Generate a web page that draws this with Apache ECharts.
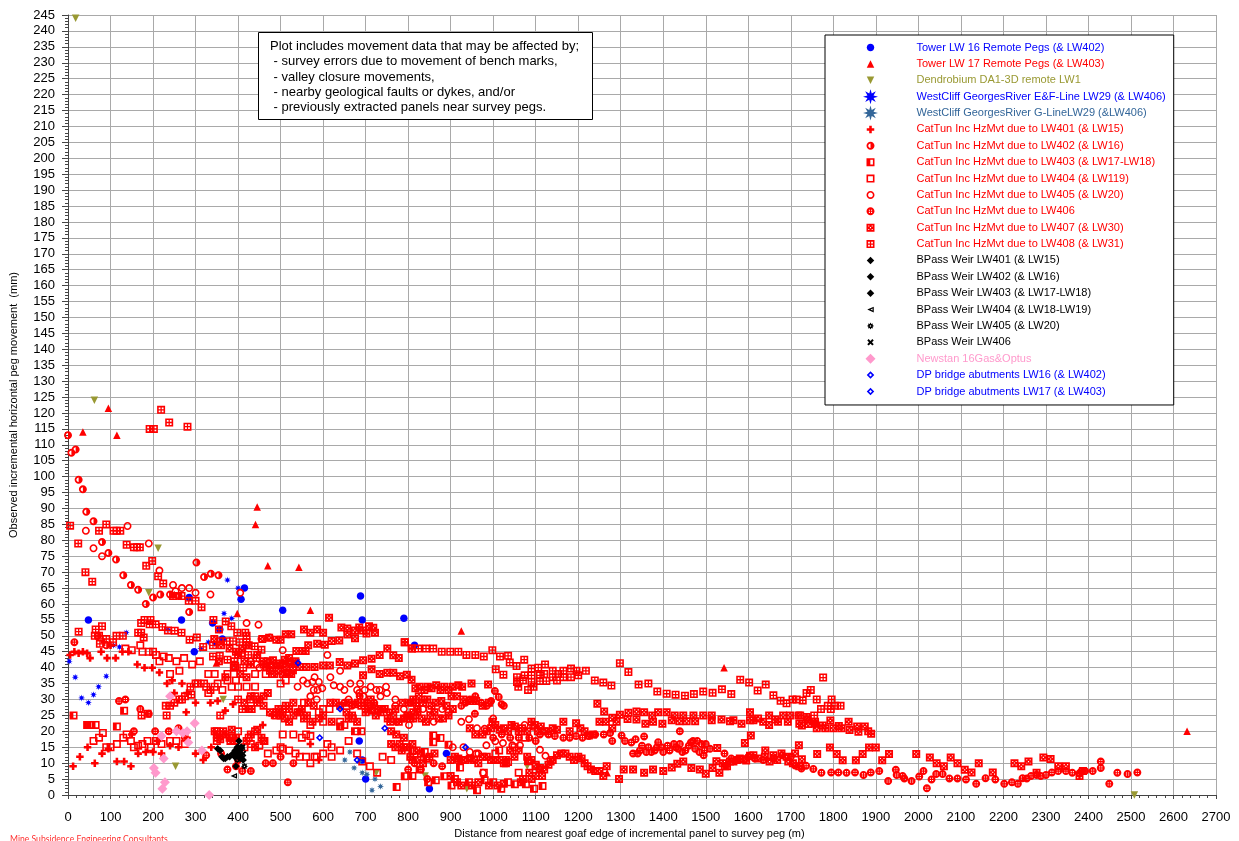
<!DOCTYPE html>
<html>
<head>
<meta charset="utf-8">
<style>html,body{margin:0;padding:0;background:#fff}#c{width:1239px;height:841px}</style>
<script src="https://cdn.jsdelivr.net/npm/echarts@6/dist/echarts.min.js"></script>
</head>
<body>
<div id="c"></div>
<script>
const towerLW16=[[48,55],[267,55],[285,62],[407,61.5],[415,65],[505,58],[688,62.5],[692,55],[790,55.5],[815,47],[340,54],[357,52],[363,49],[297,45],[685,17],[692,11],[700,5],[850,2],[890,13]];
const towerLW17=[[35,114],[95,121.5],[115,113],[445,90.5],[441,85],[470,72],[543,71.5],[570,58],[398,57],[250,63],[349,41.5],[925,51.5],[1543,40],[2632,20],[1268,7]];
const dendrobium=[[18,244],[62,124],[212,77.5],[190,63.5],[253,9],[365,30],[725,7],[840,6],[938,2],[1080,9],[2508,0]];
const westCliffEF=[[3,42],[17,37],[32,30.5],[48,29],[60,31.5],[72,34],[90,37.3],[137,51],[107,47],[121,46.5],[375,67.5],[400,65],[385,55.5],[367,57],[330,48],[345,47.5],[235,52],[312,46],[540,42]];
const westCliffG=[[651,11],[663,13.5],[673,8.5],[685,10.5],[692,7],[703,6.5],[722,5],[715,1.5],[735,2.7]];
const catTun401=[[12,9],[63,10],[28,12],[46,15],[80,13],[95,14.5],[115,10.5],[132,10.5],[148,9],[165,13],[183,13.5],[200,13.5],[220,13],[240,15.5],[260,15],[300,13],[318,11],[337,15],[5,44],[15,45],[25,44.5],[35,45],[45,44.5],[52,43],[78,45],[92,43],[112,43],[128,45],[142,45],[163,41],[180,40],[198,40],[215,38.5],[233,35],[245,36],[268,35],[250,32],[280,32],[300,29],[335,29],[352,29.5],[370,26.5],[388,28.5],[278,26],[458,22],[420,27],[570,16],[590,11],[480,25],[100,47],[85,48],[150,19],[210,17],[280,18]];
const catTun402=[[0,113],[8,107.5],[18,108.5],[25,99],[35,96],[43,89],[60,86],[80,79.5],[95,76],[113,74],[130,69],[148,66],[165,64.5],[183,60],[200,62],[217,63],[285,57.5],[302,73],[320,68.5],[336,69.5],[354,69],[240,63],[260,62.5],[70,50],[90,47]];
const catTun403=[[13,25],[132,26.5],[115,21.5],[45,22],[53,22],[65,22],[773,2.5],[792,5.9],[810,6],[827,8],[839,13.5],[843,11.4],[847,4],[865,4.6],[885,5.9],[859,18.7],[876,17.9],[895,15.8],[859,16.6],[810,13.8],[902,3],[910,5],[922,8.6],[943,4],[962,1.5],[980,4.6],[1000,4],[1019,2],[1035,4],[1051,3.4],[1077,3.4],[1096,2],[1116,2.8],[1014,14],[1035,10.4],[1082,10.6],[640,21.5],[650,22],[675,20],[690,20]];
const catTun404=[[60,17],[73,18],[82,19.5],[90,15],[100,15],[115,16],[130,18],[138,19],[148,17],[155,15],[165,15.5],[175,16],[187,17],[195,15],[207,17],[220,16],[240,17],[255,17],[275,16],[170,47],[150,45.5],[135,46],[175,45],[190,45],[200,45],[207,44],[215,42],[225,43.5],[237,43],[255,42],[273,43],[292,41],[310,42],[240,38],[262,39],[330,38],[345,38],[375,38],[395,36],[400,34],[420,34],[440,34],[352,35],[375,36],[385,34],[300,35],[325,34],[345,34],[363,33],[330,32],[350,20],[400,20],[440,20],[460,17],[470,13],[490,14],[500,15],[505,19],[530,19],[550,18],[560,19],[570,18.5],[580,12],[600,13],[620,12],[640,14],[610,16],[620,15],[560,12],[570,10],[585,12],[740,12],[760,11],[710,9],[727,7],[505,14.5],[520,14],[535,13],[545,12],[450,15.5],[430,16],[415,15],[600,23],[640,23],[555,29],[570,22],[350,17],[385,18],[425,18],[500,35],[512,36],[520,38],[480,38],[465,38],[440,38],[600,27],[615,27],[590,26],[660,17],[680,13],[692,10.5],[670,24],[1005,13],[1030,10],[1100,9.5],[1060,7],[978,7],[1050,15],[1075,18]];
const catTun405=[[42,83],[140,84.5],[190,79],[60,77.5],[80,75],[215,70.5],[247,66],[268,65],[285,65],[300,63.5],[335,63],[405,63.5],[253,64],[420,54],[448,53.5],[455,49],[475,49.5],[505,45.5],[610,44],[430,42],[443,41],[450,40],[540,34],[553,36],[563,35],[575,35.5],[578,33],[580,37],[587,33],[590,35.5],[598,33.5],[617,37],[625,34.5],[640,34],[650,33],[664,35],[680,33],[685,32],[687,35],[695,31],[698,33],[712,34],[725,33],[733,33],[748,34],[750,32],[735,31],[770,30],[770,28],[640,39],[570,31],[585,30],[660,30],[710,28],[790,27],[820,28],[838,30],[818,25],[835,27],[802,22],[925,23],[962,21],[980,20.8],[1005,16.9],[984,15.6],[1023,16.3],[1045,15.6],[1063,15.6],[1110,14.2],[1123,12.3],[976,7],[965,13],[1074,22],[1094,21.4],[943,23.8],[880,27],[895,26],[860,23],[850,27],[1000,24],[960,13],[905,15],[930,15],[945,13.5],[915,11]];
const catTun406=[[15,48],[120,29.5],[135,30],[170,27],[190,25.5],[155,20],[205,20],[237,20],[260,21],[275,18],[325,12.5],[375,8],[410,7.5],[430,7.5],[465,10],[482,10],[500,12],[530,10],[517,4],[400,11],[360,13],[395,9],
[650,29],[668,28],[686,31],[705,29],[720,29],[740,27],[756,26],[773,23],[790,24],[805,29],[822,27],[800,8],[815,10],[830,8],[845,5],[860,10],[880,9],
[958,31],[1004,32.7],[1013,30.8],[1020,28.5],[1025,28],[925,28],[935,29],[945,30],[955,30],[972,29],[985,28],[995,29.5],[957,25.5],[1000,18],[1020,19],[1040,18],[1060,18],[1085,18],[1100,17],[1110,19],[1130,19],[1145,18.5],[1165,18],[1180,18],[1195,18.5],[1210,18],[1225,18.5],[1240,19],[1260,19],[1275,19.5],[1355,18.4],[1439,20],[1388,16.6],[1302,18.7],[1280,17],[1325,16.5],[1329,13],[1345,14],[1360,13.5],[1380,14],[1395,15],[1410,15.5],[1430,15],[1439,16],[1445,13.5],[1460,15.5],[1470,17],[1480,17],[1490,16],[1497,14],[1510,14.5],[1544,13],[1560,11.5],[1575,11],[1600,12],[1615,11.5],[1635,11],[1660,11.5],[1680,12.5],[1700,12],[1710,9.3],[1725,8.3],[1340,13],[1350,15.5],[1365,15],[1372,13.5],[1385,15],[1400,13.5],[1415,14],[1425,16],[1435,14.5],[1452,14],[1465,16.5],[1475,14.5],[1485,13.5],[1495,12.5],[1500,16],[1310,17],[1335,17.5],[1736,9.2],[1753,8.2],[1772,7],[1795,7.1],[1812,7.1],[1831,7],[1851,7.1],[1871,6.3],[1888,7.1],[1908,7.5],[1929,4.4],[1947,7.9],[1949,6.3],[1963,6],[1967,5.2],[1984,4.4],[2002,5.8],[2012,7.5],[2020,2.1],[2031,4.9],[2042,6.6],[2057,6.6],[2073,5.2],[2092,5.2],[2112,4.9],[2136,3.5],[2158,5.3],[2181,4.9],[2202,3.5],[2220,4],[2234,3.5],[2245,5.3],[2255,5.2],[2265,6],[2278,6.3],[2288,6],[2300,6.3],[2314,7.1],[2329,7.5],[2347,7.5],[2362,7],[2379,6.8],[2384,7.5],[2392,7.5],[2410,7.5],[2429,8.5],[2429,10.5],[2449,3.5],[2468,7],[2492,6.6],[2515,7.1]];
const catTun407=[[345,20],[350,19],[352,18],[358,17.5],[365,20],[370,19],[380,18],[382,17],[385,20.5],[392,17],[395,18],[420,17],[430,19],[445,20.5],[455,18],[462,17],[440,15],
[457,49],[473,49.4],[490,48.8],[500,48.8],[512,50.5],[525,50.5],[555,52],[570,51],[586,52],[600,51],[614,55.7],[643,52.6],[657,52.3],[657,50.4],[675,51.7],[675,49.2],[685,52.6],[694,51.7],[708,53],[718,52.5],[722,51],[702,50.7],[565,47],[586,47.5],[604,47.2],[620,48.4],[638,48.5],[537,45.2],[551,45.2],[559,45.2],[792,48],[809,46],
[467,40.2],[478,40.7],[482,42.3],[490,41.3],[498,40.7],[506,41.3],[514,40.2],[522,41.8],[533,41.3],[529,39.2],[545,40.2],[561,40.2],[580,40.2],[600,40.7],[616,40.7],[639,41.8],[657,40.7],[675,41.3],[694,42.3],[714,42.8],[733,44],[751,46],[765,43.9],[778,43],[733,38],[751,38.4],[765,38.4],[781,37.3],[797,37.8],[808,36.2],[694,37.6],[714,39.5],[475,39],[485,38],[495,39],[505,38],[515,38.5],[525,38],[535,42],[520,43],[510,42.5],[470,42],[460,41],
[344,49],[360,47],[380,46],[395,45],[410,46],[425,47],[445,44],[460,42],[400,44],[415,42],[430,41],[355,42],[405,38],[420,37],[390,40],[370,37],[430,31],[415,29],[432,27],[450,30],[460,28],[475,26],[490,26],[500,25],[510,24],[520,27],[530,25],[545,26],[555,24],[565,29],[578,28],[470,32],[445,29],[460,31],
[490,25],[495,27],[505,26],[512,28],[520,23],[530,29],[540,26],[550,27],[562,25],[575,23],[590,24],[600,25],[620,23],[617,29],[630,29],[640,28],[655,26],[660,29],[668,25],[675,28.5],[682,29],[690,28],[697,29],[700,26],[706,27],[712,30],[715,26.5],[720,28],[724,25],[730,27],[735,26],[745,27],[752,24],[758,23],[765,25],[770,27],[778,23],[787,29],[790,24],[798,25],[805,24],[812,26],[818,29],[660,24],[680,23],[760,20],[772,19],[780,16],[790,18],[798,15],[810,16],[820,14],[770,15],[785,14],[760,16],[790,15],
[817,33.5],[827,34],[838,33],[846,34],[855,33.5],[866,34.5],[876,33],[885,34],[895,33],[905,34],[918,34.5],[927,34],[949,35],[988,34.7],[800,29],[812,30],[825,31],[835,29],[845,30],[855,28],[865,29],[878,29.5],[890,28],[902,31],[915,31],[930,30],[945,29.5],[960,29.5],[975,28],[990,29],[800,25],[812,24],[822,26],[832,24],[842,23],[852,25],[862,26],[872,24],[882,24],[895,25],[905,27],[998,23],
[945,21],[958,19],[975,19],[985,20],[995,21],[1005,22],[1015,20.5],[1025,21],[1035,20],[1043,22],[1051,21.5],[1060,20],[1068,21],[1080,20],[1090,23],[1098,22],[1105,20],[1112,21.5],[1120,20],[1130,20],[1140,21],[1150,20.5],[1165,23],[1180,20],[1195,22.5],[1205,21],[1215,20],[1225,18.7],[1235,19],[1250,23],[1265,23],[1280,21],[1290,23],
[1140,11],[1150,12.5],[1160,13],[1170,13],[1180,12],[1190,11],[1200,12],[1208,11.5],[1215,10],[1222,9],[1230,8],[1240,7.5],[1250,7.5],[1259,6],[1267,9],[1296,5],[1307,8],[1329,8],[1355,7],[1376,8],[1400,7.5],[1420,8.6],[1433,9.8],[1447,10.5],[1466,8.5],[1486,8],[1500,6.7],[1516,8.5],[1525,10.6],[1532,7],[1540,10],[1545,9],[1550,9],[1557,10.5],[1565,10.5],[1573,11],[1580,11.5],[1589,11.2],[1595,10.8],[1604,12.3],[1612,12.5],[1623,11.5],[1639,12],[1650,10.5],[1659,12.5],[1668,11],[1678,13],[1690,12],[1694,10.5],[1705,10],[1710,13],[1720,9],[1726,11.2],
[1040,14],[1060,14],[1080,12],[1090,11],[1100,9],[1110,8.5],[1120,8],[1130,9.5],[1135,10.5],[1100,6],[1115,6],[1085,7],[1070,5],[1050,12],[900,11],[910,12],[918,11.5],[925,11],[935,11],[945,11.5],[955,11],[965,10],[975,12],[985,12],[995,11],[1005,11],[1015,11],[1025,10],[1030,11],[810,11],[822,11],[835,10],[850,12],[862,13],[830,13],[805,12],[900,6],[915,4],[925,3],[950,3],[965,4],[990,3],[1010,3],[1025,3.5],[1065,4],[1090,5],
[1245,28.7],[1261,26.2],[1280,24.3],[1298,25.2],[1318,25.8],[1337,26.2],[1355,26],[1374,25],[1388,26],[1408,26],[1427,25],[1447,25],[1471,25],[1494,25],[1514,25],[1537,23.7],[1557,23.2],[1584,22.4],[1604,26],[1604,23.5],[1623,24],[1649,25],[1649,22],[1663,23.7],[1682,25],[1698,25],[1718,25],[1737,24.5],[1757,22.4],[1316,23.9],[1337,23.7],[1358,22.4],[1376,23],[1398,22.4],[1420,23.5],[1438,23.2],[1455,23.2],[1475,23.2],[1514,23.5],[1565,23.5],[1612,23.5],[1635,23],[1670,23],[1693,23],[1720,22.4],[1726,21.8],[1741,22.3],[1757,23],[1761,21],[1775,21.8],[1781,21],[1800,21],[1813,21.7],[1819,21],[1838,20.4],[1856,21.5],[1859,19.9],[1874,21.5],[1882,20],[1889,19.2],[1739,23.7],[1793,23.4],[1836,23],
[1762,12.9],[1792,14.9],[1808,12.9],[1822,10.9],[1853,10.9],[1869,12.9],[1884,14.9],[1900,14.9],[1915,10.9],[1931,12.9],[1527,14.8],[1592,16.3],[1606,18.7],[1640,14],[1719,15.6],[1995,12.9],[2027,11.8],[2043,10],[2060,9],[2076,11.8],[2092,10],[2109,7.9],[2125,7.1],[2142,10],[2175,7.1],[2226,10],[2242,9],[2259,10.5],[2278,7],[2294,11.8],[2311,11.3],[2329,9],[2347,9],[2379,6],[2387,7.5]];
const catTun408=[[5,84.6],[24,79],[41,70],[57,67],[73,83],[90,85],[107,83],[114,83],[123,83],[138,78.6],[155,77.8],[162,77.8],[169,77.8],[184,72],[198,73.5],[212,68.7],[224,66.4],[192,115],[202,115],[219,121],[238,117],[281,115.7],[247,62.5],[267,62.5],[284,61],[300,61],[314,59],[342,55],[355,52],[371,54.5],[384,53],[398,51],[417,51],[420,50],[25,51.3],[65,52],[80,53],[73,50],[63,50],[75,47.5],[90,49],[106,48],[114,50],[129,50],[165,51],[172,51],[178,49.5],[172,54],[180,55],[194,55],[192,53.6],[206,53.6],[222,52.8],[235,51.7],[251,51.6],[267,51],[286,48.8],[303,49.5],[318,46.5],[341,47],[357,48.3],[373,48.3],[388,48.3],[404,48],[420,48],[420,47],[439,46.7],[455,45.6],[408,44.6],[424,44],[341,43.5],[357,43.7],[375,42.5],[391,42],[393,40.5],[412,40],[443,43],[173,25],[187,25.5],[230,28],[240,28],[232,25],[250,29],[262,30],[275,31],[290,31.5],[305,35],[320,35],[335,33],[288,34],[268,30],[358,25],[410,27],[425,27],[440,31],[428,30],[400,30],
[792,48],[808,46],[824,46],[842,46],[859,46],[879,45],[899,45],[918,45],[937,44],[958,44],[978,43.5],[998,45.5],[1016,43.5],[1035,43.7],[1039,41.6],[1055,40.5],[1073,42.5],[1006,39.5],[1024,37.8],[1056,37],[1056,35.5],[1059,34],[1082,33],[1074,37.6],[1090,39.7],[1090,37.6],[1090,35.5],[1106,40],[1110,37.6],[1110,35.8],[1122,41],[1125,35.8],[1140,39],[1140,37],[1153,38],[1165,37],[1165,39],[1183,39.7],[1183,37],[1196,39],[1200,37.6],[1218,39],[1239,36],[1259,35.3],[1278,34.4],[1298,41.4],[1318,38.6],[1342,34.7],[1365,35],[1386,32.5],[1408,31.8],[1429,31.5],[1451,31.2],[1472,31.7],[1494,32.5],[1516,32.1],[1538,33.2],[1560,31.7],[1581,36.2],[1602,35.3],[1622,32.8],[1641,34.7],[1659,31.3],[1676,29.6],[1690,28.8],[1704,30],[1714,30],[1728,29.7],[1737,32],[1747,33],[1776,36.9],[1761,30],[1796,30],[1771,27],[1787,28],[1794,27],[1804,28],[1817,28],[1755,25],[1722,25],[1120,38],[1095,34],[1070,36],[1150,36]];
const bpass401=[[358,14],[352,14.5],[362,12],[370,11.5],[366,11.5]];
const bpass402=[[375,12],[380,12],[393,14],[398,13],[400,15],[388,13],[392,12]];
const bpass403=[[405,14],[402,17],[408,12],[412,11],[395,9],[398,15],[405,11.5],[408,15]];
const bpass404=[[390,6]];
const bpass405=[[415,9],[398,11],[403,13],[400,12]];
const bpass406=[[410,15],[412,13]];
const newstan=[[240,31],[220,18.5],[255,20],[270,19.5],[280,20],[298,22.5],[283,16.5],[315,14],[225,11.5],[202,8.5],[206,7],[228,4],[222,2],[332,0]];
const dpLW16=[[541,41.5],[640,27],[592,18]];
const dpLW17=[[745,21],[680,11],[935,15]];

const xTicks={min:0,max:2700,interval:100};
const yTicks={min:0,max:245,interval:5};
const RED='#ff0000',BLUE='#0000ff',OLIVE='#999933',STEEL='#336699',BLACK='#000000',PINK='#ff99cc';

function circ(cx,cy,r,ccw){const k=r*0.5523;
  return ccw?`M${cx+r} ${cy}C${cx+r} ${cy-k} ${cx+k} ${cy-r} ${cx} ${cy-r}C${cx-k} ${cy-r} ${cx-r} ${cy-k} ${cx-r} ${cy}C${cx-r} ${cy+k} ${cx-k} ${cy+r} ${cx} ${cy+r}C${cx+k} ${cy+r} ${cx+r} ${cy+k} ${cx+r} ${cy}Z`
  :`M${cx+r} ${cy}C${cx+r} ${cy+k} ${cx+k} ${cy+r} ${cx} ${cy+r}C${cx-k} ${cy+r} ${cx-r} ${cy+k} ${cx-r} ${cy}C${cx-r} ${cy-k} ${cx-k} ${cy-r} ${cx} ${cy-r}C${cx+k} ${cy-r} ${cx+r} ${cy-k} ${cx+r} ${cy}Z`;}
function hole(x,y,w,h){return `M${x} ${y}V${y+h}H${x+w}V${y}Z`;}
function star(n,ri){let s='';for(let i=0;i<n*2;i++){const r=i%2?ri:50,a=Math.PI*i/n-Math.PI/2;s+=(i?'L':'M')+(50+r*Math.cos(a)).toFixed(1)+' '+(50+r*Math.sin(a)).toFixed(1);}return s+'Z';}
const SQ='M0 0H100V100H0Z',DISC=circ(50,50,50,false);
const P={
 disc:DISC,
 tri:'M50 0L100 100H0Z',
 triDown:'M0 0H100L50 100Z',
 star:star(8,22),
 plus:'M33 0H67V33H100V67H67V100H33V67H0V33H33Z',
 half:DISC+'M50 22C35 22 22 35 22 50C22 65 35 78 50 78Z',
 halfSq:SQ+hole(48,20,32,60),
 openSq:SQ+hole(20,20,60,60),
 ring:DISC+circ(50,50,30,true),
 cross:DISC+hole(30,30,13,13)+hole(57,30,13,13)+hole(30,57,13,13)+hole(57,57,13,13),
 dice:SQ+hole(22,22,13,13)+hole(65,22,13,13)+hole(22,65,13,13)+hole(65,65,13,13)+hole(43,43,14,14),
 panes:SQ+hole(20,20,22,22)+hole(58,20,22,22)+hole(20,58,22,22)+hole(58,58,22,22),
 dia:'M50 0L100 50L50 100L0 50Z',
 triLeft:'M100 5V95L0 50Z'+'M82 35L50 50L82 65Z',
 blob:star(8,32)+circ(50,50,10,true),
 x:'M22 0L50 28L78 0L100 22L72 50L100 78L78 100L50 72L22 100L0 78L28 50L0 22Z',
 diaHole:'M50 0L100 50L50 100L0 50Z'+'M50 30L30 50L50 70L70 50Z'
};
const LEGEND_BOX=15;
function padded(path,size){const e=(LEGEND_BOX/size-1)*50,a=-e,b=100+e;return `path://M${a} ${a}L${a} ${a}M${b} ${b}L${b} ${b}`+path;}

const defs=[
 ['Tower LW 16 Remote Pegs (& LW402)',towerLW16,P.disc,7.5,7.5,BLUE],
 ['Tower LW 17 Remote Pegs (& LW403)',towerLW17,P.tri,7.5,7.5,RED],
 ['Dendrobium DA1-3D remote LW1',dendrobium,P.triDown,7.5,7.5,OLIVE],
 ['WestCliff GeorgesRiver E&F-Line LW29 (& LW406)',westCliffEF,P.star,7,15,BLUE],
 ['WestCliff GeorgesRiver G-LineLW29 (&LW406)',westCliffG,P.star,7,15,STEEL],
 ['CatTun Inc HzMvt due to LW401 (& LW15)',catTun401,P.plus,7.5,7.5,RED],
 ['CatTun Inc HzMvt due to LW402 (& LW16)',catTun402,P.half,8,8,RED],
 ['CatTun Inc HzMvt due to LW403 (& LW17-LW18)',catTun403,P.halfSq,8,8,RED],
 ['CatTun Inc HzMvt due to LW404 (& LW119)',catTun404,P.openSq,8,8,RED],
 ['CatTun Inc HzMvt due to LW405 (& LW20)',catTun405,P.ring,8,8,RED],
 ['CatTun Inc HzMvt due to LW406',catTun406,P.cross,8,8,RED],
 ['CatTun Inc HzMvt due to LW407 (& LW30)',catTun407,P.dice,8,8,RED],
 ['CatTun Inc HzMvt due to LW408 (& LW31)',catTun408,P.panes,8,8,RED],
 ['BPass Weir LW401 (& LW15)',bpass401,P.dia,7.5,7.5,BLACK],
 ['BPass Weir LW402 (& LW16)',bpass402,P.dia,7.5,7.5,BLACK],
 ['BPass Weir LW403 (& LW17-LW18)',bpass403,P.dia,7.5,7.5,BLACK],
 ['BPass Weir LW404 (& LW18-LW19)',bpass404,P.triLeft,6.5,6.5,BLACK],
 ['BPass Weir LW405 (& LW20)',bpass405,P.blob,7,7,BLACK],
 ['BPass Weir LW406',bpass406,P.x,6.5,6.5,BLACK],
 ['Newstan 16Gas&Optus',newstan,P.dia,10,10,PINK],
 ['DP bridge abutments LW16 (& LW402)',dpLW16,P.diaHole,7.5,7.5,BLUE],
 ['DP bridge abutments LW17 (& LW403)',dpLW17,P.diaHole,7.5,7.5,BLUE]
];

const font='"Liberation Sans",Arial,sans-serif';
const axisCommon={
  axisLine:{show:true,onZero:false,lineStyle:{color:'#444',width:1}},
  minorSplitLine:{show:false},
  splitLine:{show:true,lineStyle:{color:'#a9a9a9',width:1}},
};
const labelCommon={color:'#000',fontFamily:font,fontSize:13,hideOverlap:false,showMinLabel:true,showMaxLabel:true,formatter:v=>String(v)};
const chart=echarts.init(document.getElementById('c'),null,{renderer:'canvas'});
chart.setOption({
  animation:false,
  backgroundColor:'#fff',
  grid:{left:68,right:23,top:15,bottom:46,containLabel:false,outerBoundsMode:'none'},
  xAxis:Object.assign({},axisCommon,{type:'value',min:xTicks.min,max:xTicks.max,interval:xTicks.interval,
    name:'Distance from nearest goaf edge of incremental panel to survey peg (m)',nameLocation:'middle',nameGap:27,
    nameTextStyle:{fontFamily:font,fontSize:11,color:'#000',padding:[0,25,0,0]},
    axisTick:{show:true,length:4,lineStyle:{color:'#444',width:1}},
    minorTick:{show:true,splitNumber:5,length:3,lineStyle:{color:'#444',width:1}},
    axisLabel:Object.assign({},labelCommon,{margin:16})}),
  yAxis:Object.assign({},axisCommon,{type:'value',min:yTicks.min,max:yTicks.max,interval:yTicks.interval,
    name:'Observed incremental horizontal peg movement  (mm)',nameLocation:'middle',nameGap:49,nameRotate:90,
    nameTextStyle:{fontFamily:font,fontSize:11,color:'#000'},
    axisTick:{show:true,length:6,lineStyle:{color:'#444',width:1}},
    minorTick:{show:true,splitNumber:5,length:3,lineStyle:{color:'#444',width:1}},
    axisLabel:Object.assign({},labelCommon,{margin:13})}),
  legend:{
    show:true,orient:'vertical',left:825,top:35,
    padding:[5,8,6,38],itemWidth:82,itemHeight:LEGEND_BOX,itemGap:1.38,
    backgroundColor:'#fff',borderColor:'#000',borderWidth:1,selectedMode:false,
    textStyle:{fontFamily:font,fontSize:11},
    data:defs.map(d=>({name:d[0],icon:padded(d[2],d[4]),itemStyle:{color:d[5]},textStyle:{color:d[5],fontFamily:font,fontSize:11}}))
  },
  series:defs.map(d=>({name:d[0],type:'scatter',data:d[1],symbol:'path://'+d[2],symbolSize:d[3],
     symbolKeepAspect:true,itemStyle:{color:d[5],opacity:1},silent:true,clip:false})),
  graphic:[
    {type:'rect',z:50,shape:{x:258.5,y:32.5,width:334,height:87},style:{fill:'#fff',stroke:'#000',lineWidth:1}},
    {type:'text',z:51,left:270,top:39,style:{
      text:'Plot includes movement data that may be affected by;\n - survey errors due to movement of bench marks,\n - valley closure movements,\n - nearby geological faults or dykes, and/or\n - previously extracted panels near survey pegs.',
      font:'13px '+font,lineHeight:15.2,fill:'#000'}},
    {type:'text',left:10,top:835,style:{text:'Mine Subsidence Engineering Consultants',font:'8.6px Lato,sans-serif',fill:'#ff3030'}}
  ]
});
</script>
</body>
</html>
